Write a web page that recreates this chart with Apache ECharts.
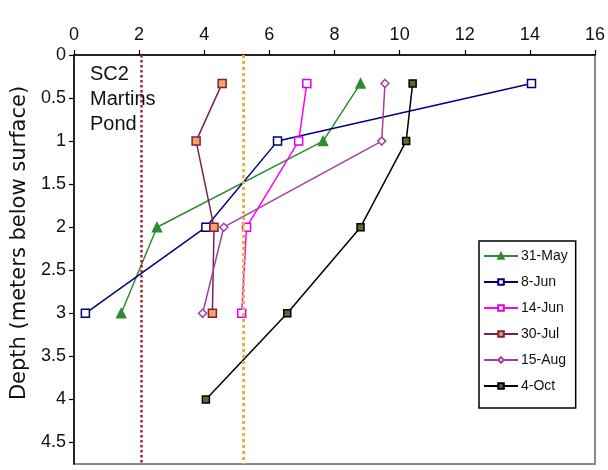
<!DOCTYPE html>
<html>
<head>
<meta charset="utf-8">
<script src="https://cdn.jsdelivr.net/npm/echarts@6/dist/echarts.min.js"></script>
<style>
html,body{margin:0;padding:0;background:#fff;}
#c{width:608px;height:470px;}
</style>
</head>
<body>
<div id="c"></div>
<script>
// ---- data ----
const seriesNames = ['31-May', '8-Jun', '14-Jun', '30-Jul', '15-Aug', '4-Oct'];
const depths = [0.33, 1, 2, 3];
const depthsOct = [0.33, 1, 2, 3, 4];
const may31 = [8.8, 7.65, 2.55, 1.45];
const jun8 = [14.05, 6.25, 4.05, 0.35];
const jun14 = [7.15, 6.9, 5.3, 5.15];
const jul30 = [4.55, 3.75, 4.3, 4.25];
const aug15 = [9.55, 9.45, 4.6, 3.95];
const oct4 = [10.4, 10.2, 8.8, 6.55, 4.05];
const refLines = [2.05, 5.2];
const xTicks = [0, 2, 4, 6, 8, 10, 12, 14, 16];
const depthTicks = [0, 0.5, 1, 1.5, 2, 2.5, 3, 3.5, 4, 4.5];
const siteLabel = 'SC2\nMartins\nPond';
const yTitle = 'Depth (meters below surface)';

function pairs(vals, ds) { return vals.map((v, i) => [v, ds[i]]); }

const styles = [
  {line: '#2e8b2e', sym: 'triangle', size: 9, fill: '#2e8b2e', border: '#2e8b2e'},
  {line: '#000080', sym: 'rect', size: 8, fill: '#ffffff', border: '#000080'},
  {line: '#ff00ff', sym: 'rect', size: 8, fill: '#ffffff', border: '#e000e0'},
  {line: '#7a1f5c', sym: 'rect', size: 8, fill: '#f4a460', border: '#802040'},
  {line: '#a040a0', sym: 'diamond', size: 8, fill: '#ffffff', border: '#a040a0'},
  {line: '#000000', sym: 'rect', size: 7, fill: '#666633', border: '#000000'}
];
const values = [may31, jun8, jun14, jul30, aug15, oct4];
const dsets = [depths, depths, depths, depths, depths, depthsOct];

const series = seriesNames.map((n, i) => ({
  name: n,
  type: 'line',
  data: pairs(values[i], dsets[i]),
  symbol: styles[i].sym,
  symbolSize: styles[i].size,
  showAllSymbol: true,
  lineStyle: {color: styles[i].line, width: 1.5},
  itemStyle: {color: styles[i].fill, borderColor: styles[i].border, borderWidth: 1.5},
  color: styles[i].line,
  z: 3
}));

series.unshift({
  name: 'ref',
  type: 'line',
  data: [],
  silent: true,
  markLine: {
    silent: true,
    symbol: ['none', 'none'],
    label: {show: false},
    data: [
      {xAxis: refLines[0], lineStyle: {color: '#a8202c', type: 'dotted', width: 2.5}},
      {xAxis: refLines[1], lineStyle: {color: '#eab23a', type: 'dotted', width: 3}}
    ]
  },
  z: 1
});

const chart = echarts.init(document.getElementById('c'), null, {renderer: 'canvas'});
chart.setOption({
  animation: false,
  backgroundColor: '#ffffff',
  grid: {left: 74, right: 13, top: 55, bottom: 6, containLabel: false, outerBoundsMode: 'none',
         show: true, borderColor: '#8a8a8a', borderWidth: 2, backgroundColor: 'transparent'},
  xAxis: {
    type: 'value', position: 'top', min: 0, max: 16, interval: 2,
    axisLine: {show: true, lineStyle: {color: '#000', width: 1.5}},
    axisTick: {show: true, inside: false, length: 5, lineStyle: {color: '#000', width: 1.2}, customValues: xTicks},
    axisLabel: {fontFamily: 'Liberation Sans, Arial, sans-serif', fontSize: 18, color: '#111', margin: 11, customValues: xTicks},
    splitLine: {show: false}
  },
  yAxis: {
    type: 'value', inverse: true, min: 0, max: 4.75, interval: 0.5,
    axisLine: {show: true, lineStyle: {color: '#000', width: 1.5}},
    axisTick: {show: true, inside: false, length: 5, lineStyle: {color: '#000', width: 1.2}, customValues: depthTicks},
    axisLabel: {fontFamily: 'Liberation Sans, Arial, sans-serif', fontSize: 18, color: '#111', margin: 8, customValues: depthTicks},
    splitLine: {show: false}
  },
  legend: {
    data: seriesNames,
    orient: 'vertical',
    left: 479, top: 241,
    padding: [8, 8, 15, 4],
    itemWidth: 34, itemHeight: 7, itemGap: 12,
    borderColor: '#000', borderWidth: 1.5,
    backgroundColor: '#fff',
    textStyle: {fontFamily: 'Liberation Sans, Arial, sans-serif', fontSize: 14, lineHeight: 14, color: '#111', padding: [0, 0, 0, -2]}
  },
  graphic: [{
    type: 'text', left: 90, top: 62, z: 10,
    style: {text: siteLabel, fontFamily: 'Liberation Sans, Arial, sans-serif', fontSize: 20, lineHeight: 25, fill: '#111'}
  }, {
    type: 'text', x: 20, y: 243, rotation: Math.PI / 2, z: 10,
    style: {text: yTitle, fontFamily: 'DejaVu Sans, sans-serif', fontSize: 21, fill: '#111', align: 'center', verticalAlign: 'middle'}
  }],
  series: series
});
</script>
</body>
</html>
